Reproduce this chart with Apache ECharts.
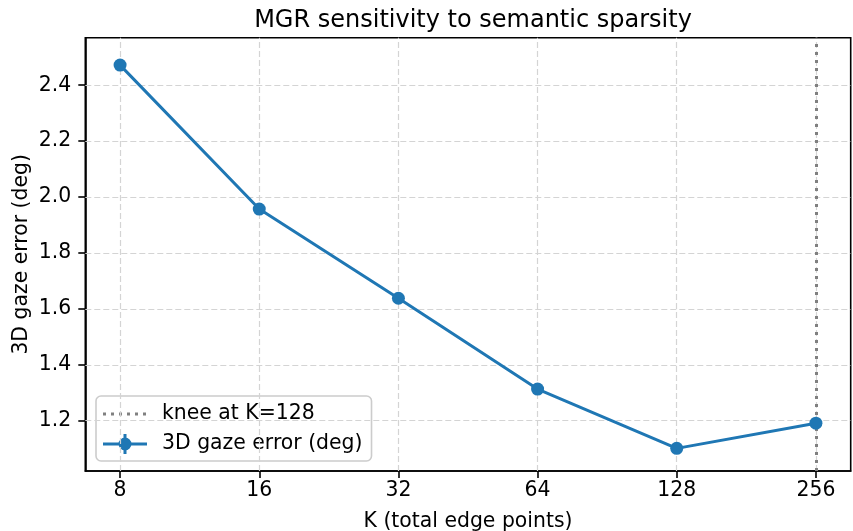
<!DOCTYPE html>
<html>
<head>
<meta charset="utf-8">
<script src="https://cdn.jsdelivr.net/npm/echarts@6/dist/echarts.min.js"></script>
<style>html,body{margin:0;padding:0;background:#fff}#c{width:853px;height:531px}</style>
</head>
<body>
<div id="c"></div>
<script>
// ---- data ----
const kValues = [8, 16, 32, 64, 128, 256];
const kLabels = ['8', '16', '32', '64', '128', '256'];
const gazeError = [2.472, 1.957, 1.638, 1.313, 1.101, 1.191];
const gazeErrStd = [0.015, 0.012, 0.012, 0.012, 0.011, 0.012];
const yTicks = [1.2, 1.4, 1.6, 1.8, 2.0, 2.2, 2.4];
const kneeLineK = 256;
const kneeLabel = 'knee at K=128';
const seriesLabel = '3D gaze error (deg)';

const FONT = 'DejaVu Sans';
const BLUE = '#1f77b4';
const xTicks = kValues.map(k => Math.log2(k));
const lineData = kValues.map((k, i) => [Math.log2(k), gazeError[i]]);
const errData = kValues.map((k, i) => [Math.log2(k), gazeError[i] - gazeErrStd[i], gazeError[i] + gazeErrStd[i]]);

const dottedIcon = 'path://M0,8.5 h3 v3 h-3 z M8,8.5 h3 v3 h-3 z M16,8.5 h3 v3 h-3 z M24,8.5 h3 v3 h-3 z M32,8.5 h3 v3 h-3 z M40,8.5 h3 v3 h-3 z M43.99,0 h0.01 v0.01 h-0.01 z M0,19.99 h0.01 v0.01 h-0.01 z';
const errIcon = 'path://M0,8.5 h15.8 v3 h-15.8 z M28.2,8.5 h15.8 v3 h-15.8 z M20.5,0 h3 v3.7 h-3 z M20.5,16.3 h3 v3.7 h-3 z M28.5,10 a6.5,6.5 0 1 1 -13,0 a6.5,6.5 0 1 1 13,0 z';

const chart = echarts.init(document.getElementById('c'), null, {renderer: 'canvas'});
chart.setOption({
  animation: false,
  backgroundColor: '#fff',
  textStyle: {fontFamily: FONT},
  title: {
    text: 'MGR sensitivity to semantic sparsity',
    left: 468, top: 4, textAlign: 'center',
    textStyle: {fontFamily: FONT, fontSize: 24, fontWeight: 'normal', color: '#000'}
  },
  grid: {
    left: 85.3, right: 2.3, top: 37.7, bottom: 60,
    show: true, borderColor: '#000', borderWidth: 1.6,
    outerBoundsMode: 'none', containLabel: false
  },
  legend: {
    orient: 'vertical', left: 96, top: 396,
    padding: [8, 9, 7, 7], itemGap: 10, itemWidth: 44, itemHeight: 20,
    backgroundColor: 'rgba(255,255,255,0.8)', borderColor: '#cccccc', borderWidth: 1.6, borderRadius: 5,
    textStyle: {fontFamily: FONT, fontSize: 20.4, color: '#000', lineHeight: 20, padding: [0, 0, 0, 10]},
    data: [
      {name: kneeLabel, icon: dottedIcon, itemStyle: {color: '#808080'}},
      {name: seriesLabel, icon: errIcon, itemStyle: {color: BLUE}}
    ]
  },
  xAxis: {
    type: 'value', min: 2.75, max: 8.25,
    name: 'K (total edge points)', nameLocation: 'middle', nameGap: 41, nameMoveOverlap: false,
    nameTextStyle: {fontFamily: FONT, fontSize: 20.4, color: '#000'},
    axisLine: {show: true, onZero: false, lineStyle: {color: '#000', width: 1.6}},
    axisTick: {show: true, length: 7, lineStyle: {color: '#000', width: 1.6}, customValues: xTicks},
    axisLabel: {fontFamily: FONT, fontSize: 20.4, color: '#000', margin: 10, customValues: xTicks,
      formatter: v => kLabels[xTicks.indexOf(v)] ?? ''},
    splitLine: {show: false}
  },
  yAxis: {
    type: 'value', min: 1.02, max: 2.57,
    name: '3D gaze error (deg)', nameLocation: 'middle', nameGap: 54, nameRotate: 90, nameMoveOverlap: false,
    nameTextStyle: {fontFamily: FONT, fontSize: 20.4, color: '#000'},
    axisLine: {show: true, onZero: false, lineStyle: {color: '#000', width: 1.6}},
    axisTick: {show: true, length: 7, lineStyle: {color: '#000', width: 1.6}, customValues: yTicks},
    axisLabel: {fontFamily: FONT, fontSize: 20.4, color: '#000', margin: 14, customValues: yTicks,
      formatter: v => v.toFixed(1)},
    splitLine: {show: false}
  },
  series: [
    {
      name: '__grid', type: 'line', data: [], silent: true, z: 0,
      markLine: {
        silent: true, symbol: 'none', label: {show: false}, animation: false,
        lineStyle: {color: '#d4d4d4', width: 1.2, type: [6, 3]},
        data: xTicks.map(v => ({xAxis: v})).concat(yTicks.map(v => ({yAxis: v})))
      }
    },
    {
      name: kneeLabel, type: 'line', data: [], symbol: 'none', z: 3,
      itemStyle: {color: '#808080'},
      lineStyle: {color: '#808080', width: 3, type: [3, 5]},
      markLine: {
        silent: true, symbol: 'none', label: {show: false}, animation: false,
        lineStyle: {color: '#808080', width: 3, type: [3, 5]},
        data: [{xAxis: Math.log2(kneeLineK)}]
      }
    },
    {
      name: seriesLabel + '_err', type: 'custom', data: errData, z: 4, silent: true,
      renderItem: (params, api) => {
        const lo = api.coord([api.value(0), api.value(1)]);
        const hi = api.coord([api.value(0), api.value(2)]);
        return {type: 'line', shape: {x1: lo[0], y1: lo[1], x2: hi[0], y2: hi[1]},
          style: {stroke: BLUE, lineWidth: 3}};
      }
    },
    {
      name: seriesLabel, type: 'line', data: lineData, z: 5,
      symbol: 'circle', symbolSize: 13, showSymbol: true,
      itemStyle: {color: BLUE},
      lineStyle: {color: BLUE, width: 3}
    }
  ]
});
</script>
</body>
</html>
